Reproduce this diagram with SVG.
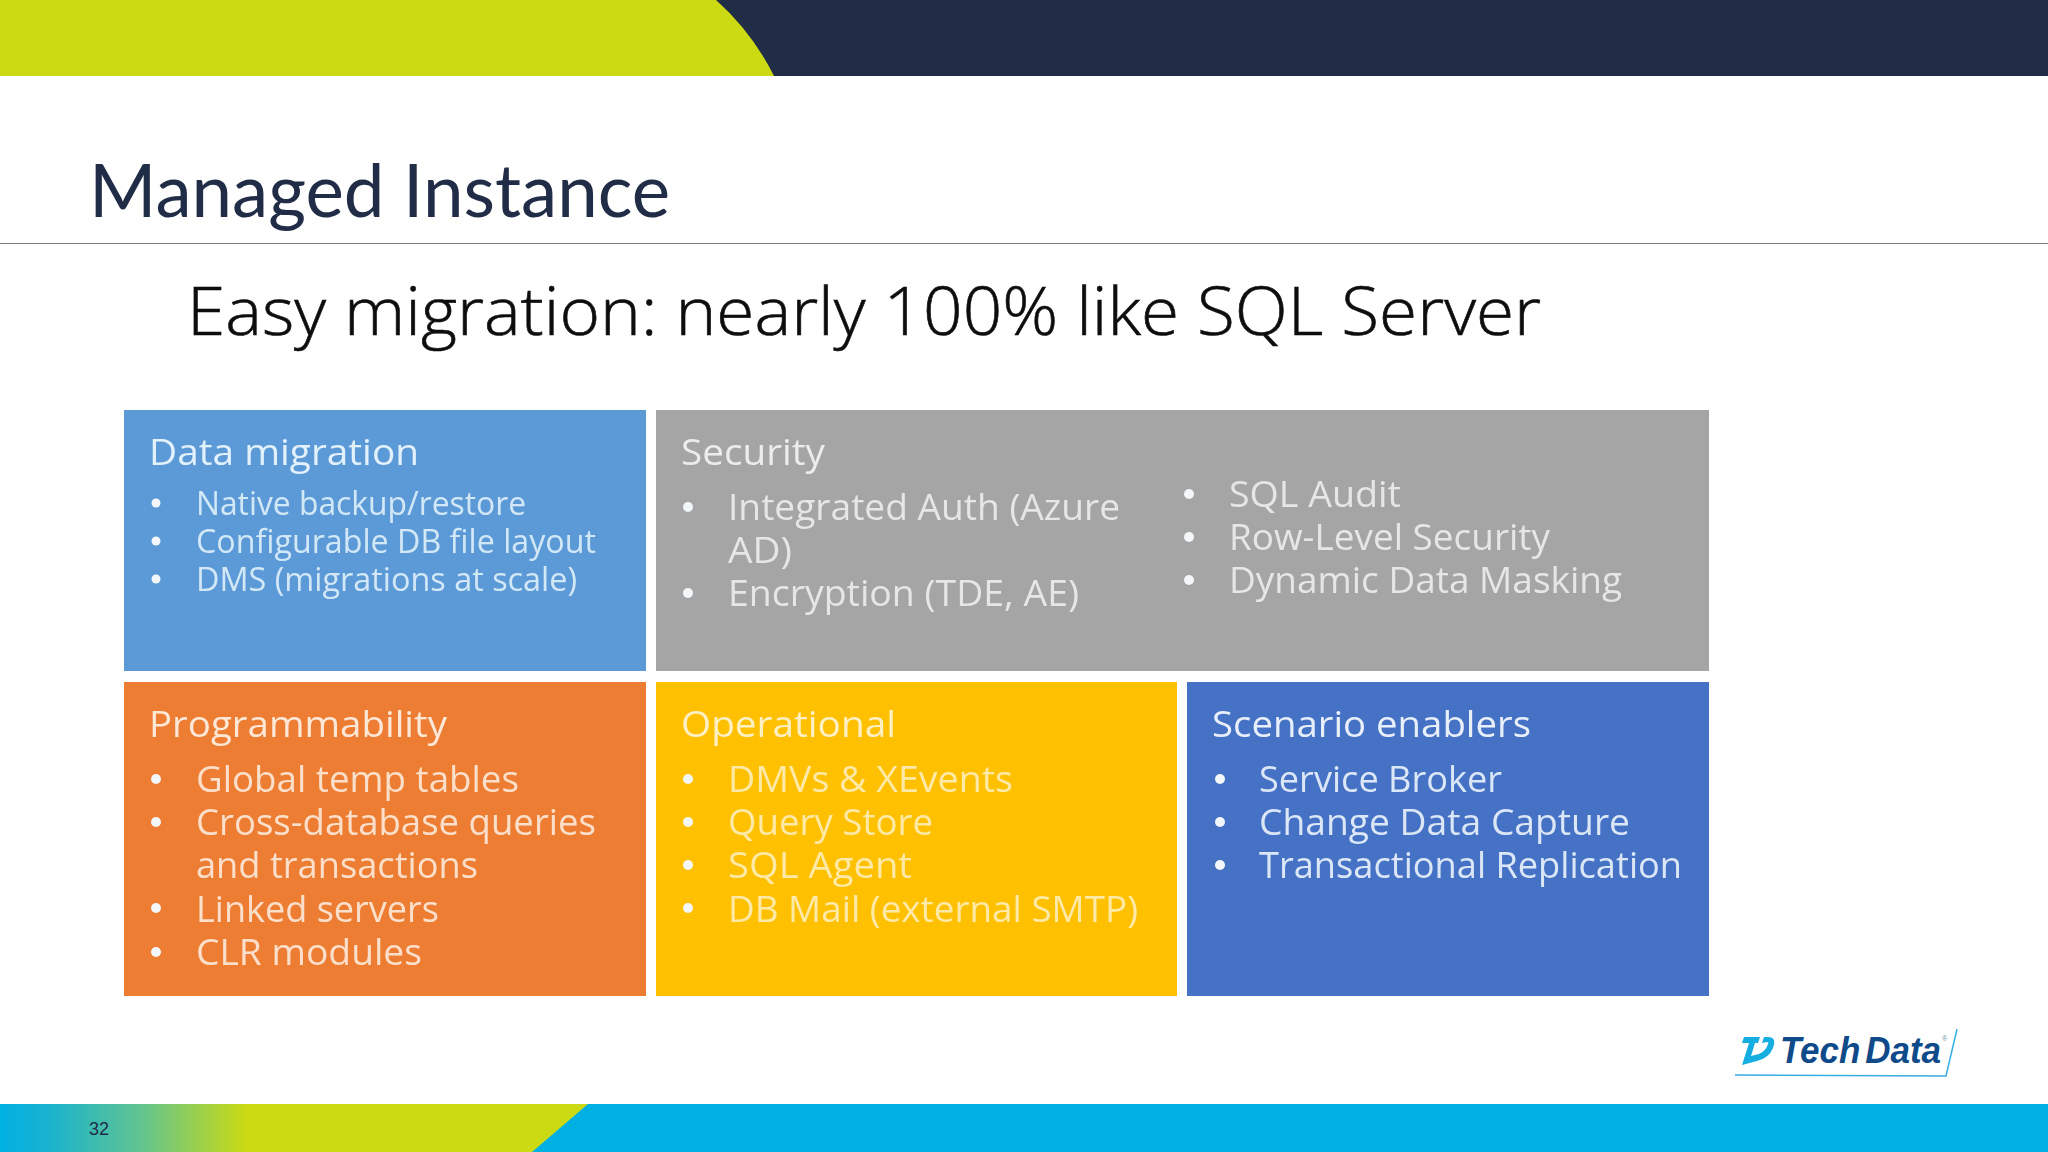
<svg xmlns="http://www.w3.org/2000/svg" width="2048" height="1152" viewBox="0 0 2048 1152">
<defs>
<linearGradient id="fg" x1="0" x2="1" y1="0" y2="0"><stop offset="0" stop-color="#00b0e3"/><stop offset="0.08" stop-color="#18b2d0"/><stop offset="0.24" stop-color="#62c490"/><stop offset="0.42" stop-color="#cbda13"/><stop offset="1" stop-color="#cbda13"/></linearGradient>
<filter id="soft" x="-5%" y="-5%" width="110%" height="110%"><feGaussianBlur stdDeviation="0.7"/></filter>
</defs>
<style>
text{font-family:"Open Sans","Noto Sans",sans-serif}
.h{font-size:37px}
.b{font-size:33px}
.s{font-size:36px}
.blue text{fill:#d3e8f7}.blue .h{fill:#e2f1fb}
.grey text{fill:#e6e6e6}.grey .h{fill:#ececec}
.orange text{fill:#fbdfca}.orange .h{fill:#fde8d8}
.yellow text{fill:#ffe9a6}.yellow .h{fill:#fff0c4}
.navy text{fill:#dbe6f6}.navy .h{fill:#e8effa}
.d{fill:#f4f7f9}
</style>
<rect width="2048" height="1152" fill="#fff"/>
<rect id="top-navy" width="2048" height="76" fill="#212c47"/>
<path id="top-lime" d="M0 0H716Q752 32 774 76H0Z" fill="#cbda13"/>
<rect id="bottom-blue" y="1104" width="2048" height="48" fill="#00b0e3"/>
<path id="bottom-lime" d="M0 1104H588L532 1152H0Z" fill="url(#fg)"/>
<text x="89" y="1135" style="font-family:'Liberation Sans',sans-serif" font-size="18" fill="#1f2c47">32</text>
<text id="title" x="89" y="217" style="font-family:Lato,sans-serif" font-size="72.7" fill="#212c47">Managed Instance</text>
<rect x="0" y="243" width="2048" height="1" fill="#7b7b7b"/>
<g filter="url(#soft)">
<text id="subtitle" x="187" y="335" font-weight="300" font-size="66" fill="#111" stroke="#111" stroke-width="0.6" textLength="1354" lengthAdjust="spacingAndGlyphs">Easy migration: nearly 100% like SQL Server</text>
<g id="data-migration" class="blue">
<rect x="124" y="410" width="522" height="261" fill="#5b9ad7"/>
<text class="h" x="149" y="465" textLength="270" lengthAdjust="spacingAndGlyphs">Data migration</text>
<text class="b" x="196" y="515" textLength="330" lengthAdjust="spacingAndGlyphs">Native backup/restore</text>
<text class="b" x="196" y="553" textLength="400" lengthAdjust="spacingAndGlyphs">Configurable DB file layout</text>
<text class="b" x="196" y="591" textLength="381" lengthAdjust="spacingAndGlyphs">DMS (migrations at scale)</text>
<circle class="d" cx="156" cy="503" r="4.5"/><circle class="d" cx="156" cy="541" r="4.5"/><circle class="d" cx="156" cy="579" r="4.5"/>
</g>
<g id="security" class="grey">
<rect x="656" y="410" width="1053" height="261" fill="#a5a5a5"/>
<text class="h" x="681" y="465" textLength="144" lengthAdjust="spacingAndGlyphs">Security</text>
<text class="s" x="728" y="520" textLength="392" lengthAdjust="spacingAndGlyphs">Integrated Auth (Azure</text>
<text class="s" x="728" y="563" textLength="64" lengthAdjust="spacingAndGlyphs">AD)</text>
<text class="s" x="728" y="606" textLength="351" lengthAdjust="spacingAndGlyphs">Encryption (TDE, AE)</text>
<text class="s" x="1229" y="507" textLength="172" lengthAdjust="spacingAndGlyphs">SQL Audit</text>
<text class="s" x="1229" y="550" textLength="321" lengthAdjust="spacingAndGlyphs">Row-Level Security</text>
<text class="s" x="1229" y="593" textLength="393" lengthAdjust="spacingAndGlyphs">Dynamic Data Masking</text>
<circle class="d" cx="688" cy="507" r="5"/><circle class="d" cx="688" cy="593" r="5"/><circle class="d" cx="1189" cy="494" r="5"/><circle class="d" cx="1189" cy="537" r="5"/><circle class="d" cx="1189" cy="580" r="5"/>
</g>
<g id="programmability" class="orange">
<rect x="124" y="682" width="522" height="314" fill="#ed7d31"/>
<text class="h" x="149" y="737" textLength="298" lengthAdjust="spacingAndGlyphs">Programmability</text>
<text class="s" x="196" y="792" textLength="323" lengthAdjust="spacingAndGlyphs">Global temp tables</text>
<text class="s" x="196" y="835" textLength="400" lengthAdjust="spacingAndGlyphs">Cross-database queries</text>
<text class="s" x="196" y="878" textLength="282" lengthAdjust="spacingAndGlyphs">and transactions</text>
<text class="s" x="196" y="922" textLength="243" lengthAdjust="spacingAndGlyphs">Linked servers</text>
<text class="s" x="196" y="965" textLength="226" lengthAdjust="spacingAndGlyphs">CLR modules</text>
<circle class="d" cx="156" cy="779" r="5"/><circle class="d" cx="156" cy="822" r="5"/><circle class="d" cx="156" cy="908" r="5"/><circle class="d" cx="156" cy="952" r="5"/>
</g>
<g id="operational" class="yellow">
<rect x="656" y="682" width="521" height="314" fill="#ffc000"/>
<text class="h" x="681" y="737" textLength="215" lengthAdjust="spacingAndGlyphs">Operational</text>
<text class="s" x="728" y="792" textLength="285" lengthAdjust="spacingAndGlyphs">DMVs &amp; XEvents</text>
<text class="s" x="728" y="835" textLength="205" lengthAdjust="spacingAndGlyphs">Query Store</text>
<text class="s" x="728" y="878" textLength="184" lengthAdjust="spacingAndGlyphs">SQL Agent</text>
<text class="s" x="728" y="922" textLength="410" lengthAdjust="spacingAndGlyphs">DB Mail (external SMTP)</text>
<circle class="d" cx="688" cy="779" r="5"/><circle class="d" cx="688" cy="822" r="5"/><circle class="d" cx="688" cy="865" r="5"/><circle class="d" cx="688" cy="908" r="5"/>
</g>
<g id="scenario-enablers" class="navy">
<rect x="1187" y="682" width="522" height="314" fill="#4472c4"/>
<text class="h" x="1212" y="737" textLength="319" lengthAdjust="spacingAndGlyphs">Scenario enablers</text>
<text class="s" x="1259" y="792" textLength="243" lengthAdjust="spacingAndGlyphs">Service Broker</text>
<text class="s" x="1259" y="835" textLength="371" lengthAdjust="spacingAndGlyphs">Change Data Capture</text>
<text class="s" x="1259" y="878" textLength="423" lengthAdjust="spacingAndGlyphs">Transactional Replication</text>
<circle class="d" cx="1220" cy="779" r="5"/><circle class="d" cx="1220" cy="822" r="5"/><circle class="d" cx="1220" cy="865" r="5"/>
</g>
</g>
<g id="logo">
<path d="M1744 1037H1760L1758 1043H1755L1751 1056 1759 1054Q1766 1051 1768 1044 1769 1042 1767 1042L1762 1043 1764 1037H1768Q1777 1037 1773 1048 1769 1058 1757 1061L1742 1065 1749 1043H1742Z" fill="#14aee0"/>
<text x="1780" y="1063" style="font-family:'Liberation Sans',sans-serif" font-style="italic" font-weight="700" font-size="36" word-spacing="-5" fill="#0f4a8a" textLength="161" lengthAdjust="spacingAndGlyphs">Tech Data</text>
<text x="1942" y="1041" style="font-family:'Liberation Sans',sans-serif" font-size="7" fill="#6f8fa8">®</text>
<path d="M1735 1075L1946 1076 1957 1029" fill="none" stroke="#35aee0" stroke-width="1.5"/>
</g>
</svg>
